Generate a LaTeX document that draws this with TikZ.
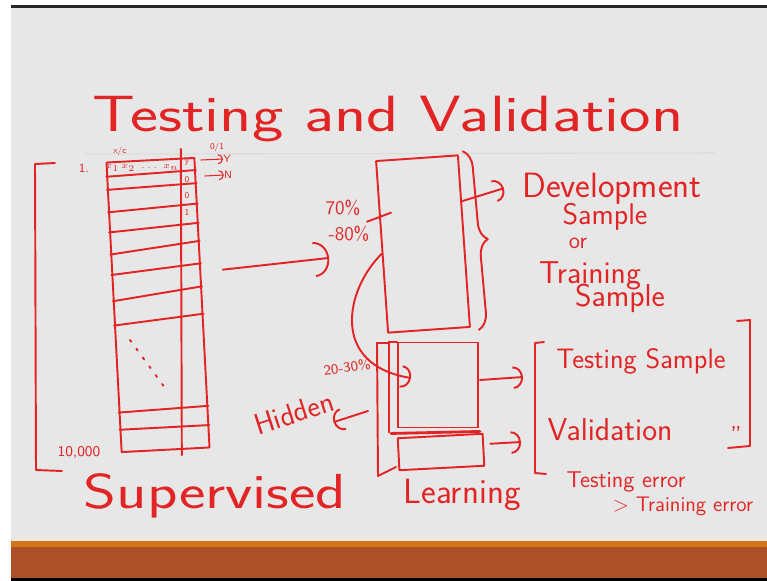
\documentclass[tikz,border=0pt]{standalone}
\usepackage{fontspec}
\usetikzlibrary{arrows.meta, calc, decorations.pathreplacing}
\definecolor{penred}{RGB}{226,36,36}
\definecolor{board}{RGB}{231,231,231}
\definecolor{boardlow}{RGB}{238,232,224}
\definecolor{barorange}{RGB}{208,118,28}
\definecolor{barbrown}{RGB}{172,80,40}
\newcommand{\inksize}[1]{\sffamily\fontsize{#1}{#1}\selectfont}
\tikzset{
	pen/.style      ={draw=penred, line width=1.1pt, line cap=round, line join=round},
	penarrow/.style ={pen, -{Arc Barb[length=2mm, width=4.5mm]}},
	bigarrow/.style ={pen, -{Arc Barb[length=3mm, width=7mm]}},
	tinyarrow/.style={pen, line width=0.6pt, -{Arc Barb[length=1mm, width=2mm]}},
	box/.style      ={rectangle, pen, inner sep=0pt},
	ink/.style      ={text=penred, inner sep=0pt},
}
\begin{document}
\begin{tikzpicture}[x=0.02cm, y=-0.02cm]
	\useasboundingbox (0,0) rectangle (767,581);
	% board and frame
	\fill[white] (0,0) rectangle (767,581);
	\fill[board] (11,8) rectangle (767,537);
	\fill[black!85] (11,5) rectangle (767,8);
	\fill[boardlow] (11,537) rectangle (767,541);
	\fill[barorange] (11,541) rectangle (767,547);
	\fill[barbrown] (11,547) rectangle (767,578);
	\fill[black] (11,578) rectangle (767,581);
	\draw[black!14, line width=0.6pt] (85,154) -- (715,153);

	\node[ink, font=\inksize{29}, anchor=base, xscale=1.31] (title) at (388,132) {Testing and Validation};

	% data table
	\draw[pen] (55,163) -- (35,164) -- (36,470) -- (62,471);
	\node[box, rotate=3, minimum width=1.76cm, minimum height=5.8cm] (tbl) at (158,305) {};
	\foreach \f/\g in {.052/.045, .097/.090, .174/.160, .243/.226, .319/.288, .389/.365, .479/.444, .5625/.538, .861/.854, .920/.920}
		\draw[pen] ($(tbl.north west)!\f!(tbl.south west)$) -- ($(tbl.north east)!\g!(tbl.south east)$);
	\draw[pen, shorten <=-5pt, shorten >=-3pt] ($(tbl.north west)!.84!(tbl.north east)$) -- ($(tbl.south west)!.68!(tbl.south east)$);
	\draw[pen, dash pattern=on 1.2pt off 5pt] (130,340) -- (168,392);
	\node[ink, font=\inksize{7}] (first) at (84,168) {1.};
	\node[ink, font=\inksize{8.5}] (last) at (79,452) {10,000};
	\node[ink, font=\inksize{5}] (xc) at (120,151) {x/c};
	\node[ink, font=\inksize{5}] (xrow) at (142,168) {$x_1\,x_2\;\dots\;x_n$};
	\foreach \v/\yy in {y/162, 0/180, 0/196, 1/213}
		\node[ink, font=\inksize{5}] at (187,\yy) {\v};
	\node[ink, font=\inksize{5}] (zo) at (217,147) {0/1};
	\node[ink, font=\inksize{6}] (ylbl) at (227,159) {Y};
	\node[ink, font=\inksize{6}] (nlbl) at (228,175) {N};
	\coordinate (ysrc) at (201,160);
	\coordinate (nsrc) at (205,176);
	\draw[tinyarrow] (ysrc) -- (ylbl.west);
	\draw[tinyarrow] (nsrc) -- (nlbl.west);

	% development sample
	\node[box, rotate=4, minimum width=1.64cm, minimum height=3.44cm] (dev) at (423,244) {};
	\draw[bigarrow] ([shift={(20,-33)}]tbl.east) -- ([shift={(-52,11)}]dev.west);
	\coordinate (mark) at ($(dev.north west)!.32!(dev.south west)$);
	\draw[pen] ([shift={(-12,6)}]mark) -- ([shift={(12,-3)}]mark);
	\node[ink, font=\inksize{11}] (pct) at (343,208) {70\%};
	\node[ink, font=\inksize{11}] (pcttwo) at (349,234) {-80\%};
	\draw[pen, decorate, decoration={brace, amplitude=0.34cm}] ([shift={(4,-3)}]dev.north east) -- ([shift={(8,2)}]dev.south east);
	\node[ink, font=\inksize{20}, anchor=base] (devtxt) at (612,197) {Development};
	\node[ink, font=\inksize{17}, anchor=base] (smpone) at (605,224) {Sample};
	\node[ink, font=\inksize{13}, anchor=base] (ortxt) at (578,248) {or};
	\node[ink, font=\inksize{18}, anchor=base] (trn) at (590,283) {Training};
	\node[ink, font=\inksize{18}, anchor=base] (smptwo) at (620,306) {Sample};
	\draw[penarrow] ($(dev.north east)!.27!(dev.south east)$) -- ([shift={(-18,0)}]devtxt.west);

	% held-out part
	\node[box, minimum width=1.6cm, minimum height=1.7cm] (tst) at (438,385) {};
	\draw[pen] ([shift={(-8,0)}]tst.north west) -- (tst.north west);
	\draw[pen] ([shift={(-8,0)}]tst.north west) -- ([shift={(-8,4)}]tst.south west);
	\draw[pen, line width=1.6pt] ([shift={(-6,5)}]tst.south west) -- ([shift={(1,3)}]tst.south east);
	\node[box, rotate=3, minimum width=1.7cm, minimum height=0.64cm] (val) at (441,452) {};
	\draw[pen] (388,343) -- (377,343) -- (378,476) -- (396,467);
	\coordinate (split) at ($(dev.north west)!.54!(dev.south west)$);
	\draw[penarrow] (split) .. controls (345,290) and (330,365) .. ([shift={(14,-7)}]tst.west);
	\node[ink, font=\inksize{8}, rotate=8] (hidpct) at (347,367) {20-30\%};
	\node[ink, font=\inksize{17}, rotate=18] (hidden) at (294,413) {Hidden};
	\coordinate (hidsrc) at (368,411);
	\draw[penarrow] (hidsrc) -- ([shift={(0,22)}]hidden.east);

	% uses of the held-out part
	\coordinate (tstin) at (523,377);
	\coordinate (valin) at (521,442);
	\draw[penarrow] ([shift={(1,-5)}]tst.east) -- (tstin);
	\draw[penarrow] ([shift={(6,-6)}]val.east) -- (valin);
	\draw[pen] (544,342) -- (535,343) -- (535,473) -- (546,474);
	\draw[pen] (737,321) -- (750,320) -- (750,446) -- (728,448);
	\node[ink, font=\inksize{16}, anchor=base] (tstlbl) at (641,368) {Testing Sample};
	\node[ink, font=\inksize{18}, anchor=base] (vallbl) at (610,440) {Validation};
	\node[ink, font=\inksize{14}, anchor=base] (ditto) at (736,428) {,,};
	\node[ink, font=\inksize{13}, anchor=base] (errone) at (626,487) {Testing error};
	\node[ink, font=\inksize{12}, anchor=base] (errtwo) at (683,511) {> Training error};

	\node[ink, font=\inksize{28}, anchor=base, xscale=1.28] (sup) at (215,508) {Supervised};
	\node[ink, font=\inksize{20}, anchor=base] (lrn) at (462,503) {Learning};
\end{tikzpicture}
\end{document}
